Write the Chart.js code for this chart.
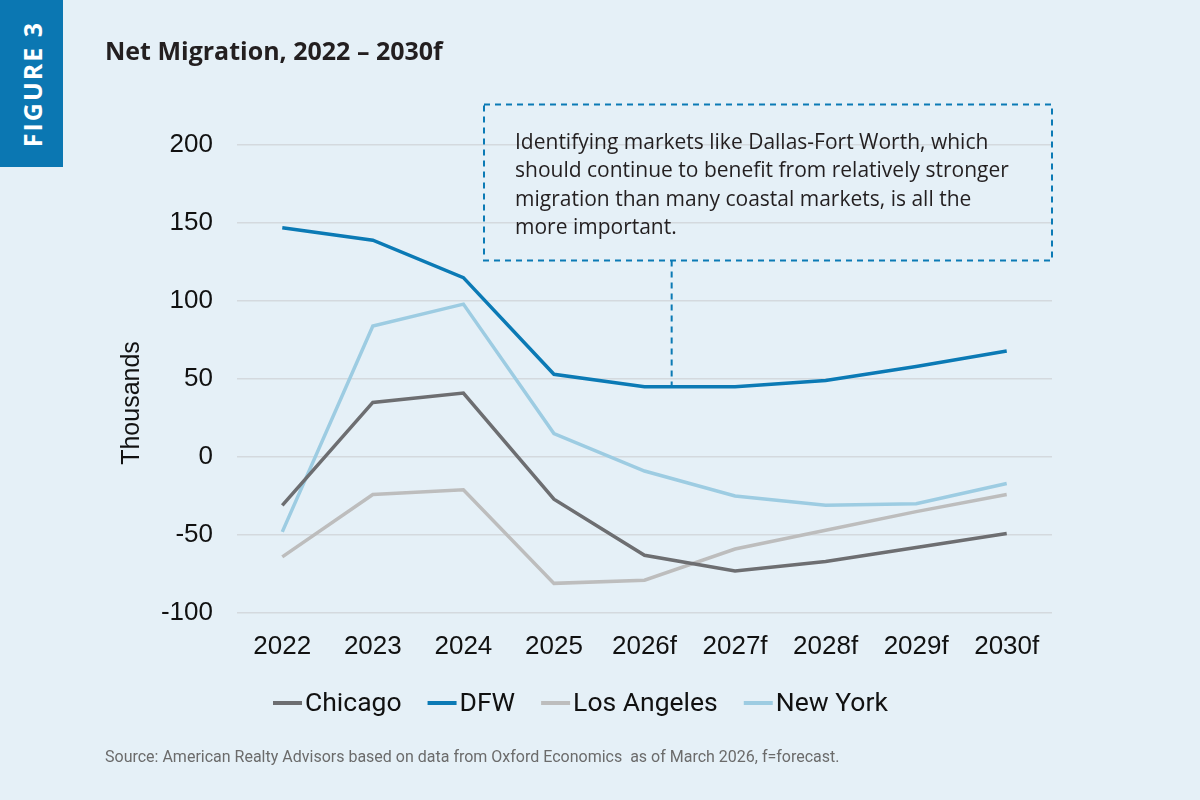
<!DOCTYPE html>
<html>
<head>
<meta charset="utf-8">
<script src="https://cdn.jsdelivr.net/npm/chart.js@4.4.1/dist/chart.umd.min.js"></script>
<style>
    html, body { margin: 0; padding: 0; background: #e5f0f7; }
    #wrap { position: relative; width: 1200px; height: 800px; background: #e5f0f7; overflow: hidden; }
    #tab { position: absolute; left: 0; top: 0; width: 63px; height: 167px; background: #0b77b2; }
    #tab span {
        position: absolute; left: 32px; top: 84px;
        transform: translate(-50%, -50%) rotate(-90deg);
        color: #fff; font: bold 25px "Open Sans", sans-serif; line-height: 25px; letter-spacing: 2px; white-space: nowrap;
    }
    #title { position: absolute; left: 105px; top: 37px; font: bold 25px "Open Sans", sans-serif; line-height: 26px; color: #231f20; letter-spacing: 0; }
    #source { position: absolute; left: 105px; top: 748px; font: 16px Roboto, sans-serif; line-height: 18px; color: #6b6b6b; }
    canvas { position: absolute; left: 0; top: 0; }
</style>
</head>
<body>
<div id="wrap">
    <canvas id="chart" width="1200" height="800"></canvas>
    <div id="tab"><span>FIGURE 3</span></div>
    <div id="title">Net Migration, 2022 – 2030f</div>
    <div id="source">Source: American Realty Advisors based on data from Oxford Economics&nbsp; as of March 2026, f=forecast.</div>
</div>
<script>
const years = ['2022', '2023', '2024', '2025', '2026f', '2027f', '2028f', '2029f', '2030f'];
const chicago = [-31, 35, 41, -27, -63, -73, -67, -58, -49];
const dfw = [147, 139, 115, 53, 45, 45, 49, 58, 68];
const losAngeles = [-64, -24, -21, -81, -79, -59, -47, -35, -24];
const newYork = [-48, 84, 98, 15, -9, -25, -31, -30, -17];
const yTicks = [-100, -50, 0, 50, 100, 150, 200];

const note = [
    'Identifying markets like Dallas-Fort Worth, which',
    'should continue to benefit from relatively stronger',
    'migration than many coastal markets, is all the',
    'more important.'
];

const AXIS_FONT = '"Liberation Sans", Arial, sans-serif';
const BLUE = '#0b7ab5';

const overlay = {
    id: 'overlay',
    afterDraw(chart) {
        const ctx = chart.ctx;
        const x = chart.scales.x;
        const y = chart.scales.y;
        const area = chart.chartArea;

        ctx.save();
        // y axis title
        ctx.translate(132, 403);
        ctx.rotate(-Math.PI / 2);
        ctx.fillStyle = '#111';
        ctx.font = '25px ' + AXIS_FONT;
        ctx.textAlign = 'center';
        ctx.textBaseline = 'middle';
        ctx.fillText('Thousands', 0, 0);
        ctx.restore();

        // legend, drawn by hand so the swatch sits close to its label
        ctx.save();
        ctx.font = '26.5px Roboto, sans-serif';
        ctx.textBaseline = 'middle';
        let lx = 273;
        const ly = 703;
        chart.data.datasets.forEach((ds) => {
            ctx.strokeStyle = ds.borderColor;
            ctx.lineWidth = 4;
            ctx.beginPath();
            ctx.moveTo(lx, ly);
            ctx.lineTo(lx + 29, ly);
            ctx.stroke();
            ctx.fillStyle = '#111';
            ctx.fillText(ds.label, lx + 32, ly + 1);
            lx += 32 + ctx.measureText(ds.label).width + 26;
        });
        ctx.restore();

        // annotation box
        const left = 484;
        const right = area.right;
        const top = y.getPixelForValue(226);
        const bottom = y.getPixelForValue(126);
        const stemX = x.getPixelForValue(4.3);
        ctx.save();
        ctx.strokeStyle = BLUE;
        ctx.lineWidth = 2;
        ctx.setLineDash([6, 5]);
        ctx.strokeRect(left, top, right - left, bottom - top);
        ctx.beginPath();
        ctx.moveTo(stemX, bottom);
        ctx.lineTo(stemX, y.getPixelForValue(45));
        ctx.stroke();
        ctx.setLineDash([]);
        ctx.fillStyle = '#231f20';
        ctx.font = '21px "Open Sans", sans-serif';
        ctx.textBaseline = 'middle';
        note.forEach((line, i) => ctx.fillText(line, 515, 143 + i * 28.5));
        ctx.restore();
    }
};

function series(label, data, color) {
    return {
        label,
        data,
        borderColor: color,
        backgroundColor: color,
        borderWidth: 3.5,
        pointRadius: 0,
        tension: 0,
        fill: false
    };
}

new Chart(document.getElementById('chart').getContext('2d'), {
    type: 'line',
    data: {
        labels: years,
        datasets: [
            series('Chicago', chicago, '#6d6e71'),
            series('DFW', dfw, BLUE),
            series('Los Angeles', losAngeles, '#bdbdbd'),
            series('New York', newYork, '#9dcce2')
        ]
    },
    options: {
        responsive: false,
        animation: false,
        devicePixelRatio: 1,
        layout: {
            padding: { left: 118, right: 148, top: 145, bottom: 121 }
        },
        plugins: {
            legend: { display: false },
            tooltip: { enabled: false }
        },
        scales: {
            x: {
                offset: true,
                grid: { display: false },
                border: { display: false },
                ticks: {
                    color: '#111',
                    font: { family: AXIS_FONT, size: 26 },
                    padding: 10,
                    maxRotation: 0
                },
                afterFit: (scale) => { scale.height = 66; }
            },
            y: {
                min: -100,
                max: 200,
                afterBuildTicks: (scale) => { scale.ticks = yTicks.map((value) => ({ value })); },
                grid: { color: '#d4d9de', lineWidth: 1.5, drawTicks: false },
                border: { display: false },
                ticks: {
                    color: '#111',
                    font: { family: AXIS_FONT, size: 26 },
                    padding: 24
                },
                afterFit: (scale) => { scale.width = 119; }
            }
        }
    },
    plugins: [overlay]
});
</script>
</body>
</html>
